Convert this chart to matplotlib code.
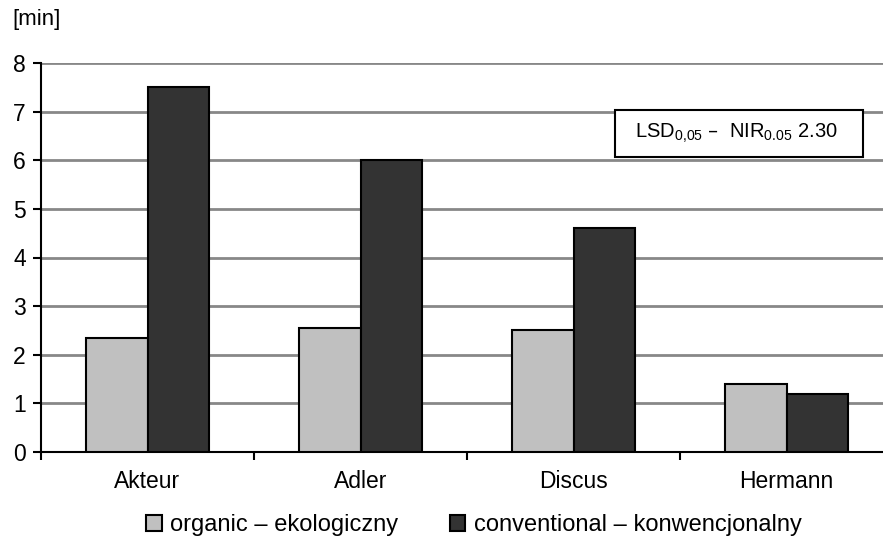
import numpy as np
import matplotlib.pyplot as plt
import matplotlib as mpl
from matplotlib.patches import Patch, Rectangle

mpl.rcParams['font.family'] = ['Liberation Sans', 'DejaVu Sans']

# Data
varieties = ["Akteur", "Adler", "Discus", "Hermann"]
organic = [2.35, 2.55, 2.5, 1.4]
conventional = [7.5, 6.0, 4.6, 1.2]
series_labels = ["organic – ekologiczny", "conventional – konwencjonalny"]
y_ticks = [0, 1, 2, 3, 4, 5, 6, 7, 8]

W, H = 883, 547
fig = plt.figure(figsize=(W / 100, H / 100), dpi=100)
# plot area runs slightly past the right edge (cropped original)
ax = fig.add_axes([41 / W, 1 - 452 / H, 852 / W, 389 / H])

x = np.arange(len(varieties))
w = 0.287
ax.bar(x - w / 2, organic, w, color="#c0c0c0", edgecolor="black", linewidth=1.5, zorder=3)
ax.bar(x + w / 2, conventional, w, color="#333333", edgecolor="black", linewidth=1.5, zorder=3)

ax.set_xlim(-0.5, len(varieties) - 0.5)
ax.set_ylim(0, 8)
ax.set_yticks(y_ticks)
ax.yaxis.grid(True, color="#888888", linewidth=2, zorder=0)
ax.set_axisbelow(True)

# category ticks at group boundaries, labels at centers
ax.set_xticks(np.arange(len(varieties) + 1) - 0.5)
ax.set_xticklabels([])
ax.set_xticks(x, minor=True)
ax.set_xticklabels(varieties, minor=True)
ax.tick_params(axis="x", which="minor", length=0, pad=13, labelsize=16.5)
ax.tick_params(axis="x", which="major", length=6, width=1.5, direction="out")
ax.tick_params(axis="y", length=6, width=1.5, direction="out", labelsize=16.5, pad=5)

for s in ["top", "right"]:
    ax.spines[s].set_visible(False)
ax.spines["left"].set_linewidth(1.5)
ax.spines["bottom"].set_linewidth(1.5)

fig.text(12 / W, 1 - 20 / H, "[min]", fontsize=16, va="center", ha="left")

# LSD box
ax.add_patch(Rectangle((0.674, 0.758), 0.291, 0.121, transform=ax.transAxes,
                       facecolor="white", edgecolor="black", linewidth=1.5, zorder=5))
ax.text(0.6975, 0.818, r"LSD$_{\mathregular{0{,}05}}$ –  NIR$_{\mathregular{0.05}}$ 2.30",
        transform=ax.transAxes, fontsize=14.5, ha="left", va="center", zorder=6)

handles = [Patch(facecolor="#c0c0c0", edgecolor="black", linewidth=1.5),
           Patch(facecolor="#333333", edgecolor="black", linewidth=1.5)]
fig.legend(handles, series_labels, loc="center", bbox_to_anchor=(474 / W, 1 - 525 / H),
           ncol=2, frameon=False, fontsize=17, handlelength=0.65, handleheight=0.65,
           handletextpad=0.35, columnspacing=2.2)

fig.savefig("out.png", dpi=100)
